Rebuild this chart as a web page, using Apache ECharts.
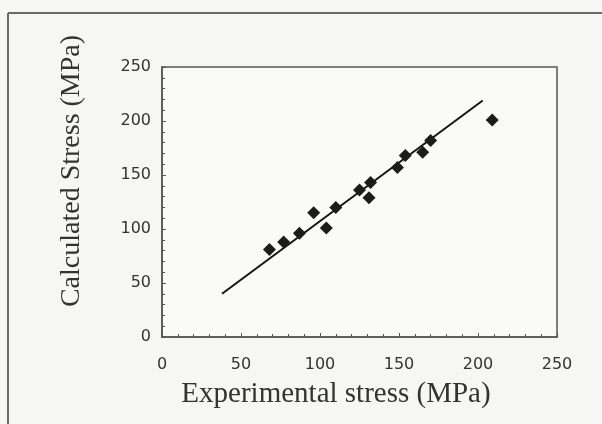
<!DOCTYPE html>
<html>
<head>
<meta charset="utf-8">
<script src="https://cdn.jsdelivr.net/npm/echarts@6/dist/echarts.min.js"></script>
<style>html,body{margin:0;padding:0;background:#f6f6f4;}#c{width:602px;height:424px;}</style>
</head>
<body>
<div id="c"></div>
<script>
// Experimental stress (MPa) vs calculated stress (MPa)
var expStress  = [68, 77, 87, 96, 104, 110, 125, 131, 132, 149, 154, 165, 170, 209];
var calcStress = [81, 88, 96, 115, 101, 120, 136, 129, 143, 157, 168, 171, 182, 201];
// fitted line endpoints
var fitX = [38, 203];
var fitY = [40, 219];
var xTicks = [0, 50, 100, 150, 200, 250];
var yTicks = [0, 50, 100, 150, 200, 250];

var chart = echarts.init(document.getElementById('c'), null, {renderer: 'canvas'});
var axisColor = '#555555';
var labelStyle = {color: '#333333', fontFamily: 'DejaVu Sans', fontSize: 16};
chart.setOption({
  backgroundColor: '#f6f6f4',
  animation: false,
  grid: {left: 162, right: 45, top: 67, bottom: 87, show: true,
         backgroundColor: '#fafaf9', borderColor: axisColor, borderWidth: 1.5},
  xAxis: {
    type: 'value', min: xTicks[0], max: xTicks[xTicks.length - 1], interval: 50,
    axisLine: {show: true, lineStyle: {color: axisColor, width: 1.5}},
    axisTick: {show: true, inside: true, length: 4, lineStyle: {color: axisColor}},
    minorTick: {show: true, splitNumber: 5, length: 3, lineStyle: {color: axisColor}},
    splitLine: {show: false},
    axisLabel: Object.assign({margin: 20}, labelStyle)
  },
  yAxis: {
    type: 'value', min: yTicks[0], max: yTicks[yTicks.length - 1], interval: 50,
    axisLine: {show: true, lineStyle: {color: axisColor, width: 1.5}},
    axisTick: {show: true, inside: true, length: 4, lineStyle: {color: axisColor}},
    minorTick: {show: true, splitNumber: 5, length: 3, lineStyle: {color: axisColor}},
    splitLine: {show: false},
    axisLabel: Object.assign({margin: 11}, labelStyle)
  },
  series: [
    {
      type: 'line', data: fitX.map(function (x, i) { return [x, fitY[i]]; }),
      showSymbol: false, symbol: 'none',
      lineStyle: {color: '#151515', width: 2}, z: 2
    },
    {
      type: 'scatter', data: expStress.map(function (x, i) { return [x, calcStress[i]]; }),
      symbol: 'diamond', symbolSize: 13,
      itemStyle: {color: '#1c1c1c', opacity: 1}, z: 3
    }
  ],
  graphic: [
    {type: 'line', shape: {x1: 8, y1: 13, x2: 602, y2: 13}, style: {stroke: '#6a6a6a', lineWidth: 2}},
    {type: 'line', shape: {x1: 8, y1: 13, x2: 8, y2: 424}, style: {stroke: '#6a6a6a', lineWidth: 2}},
    {type: 'text', x: 72, y: 171, rotation: Math.PI / 2,
     style: {text: 'Calculated Stress (MPa)', align: 'center', verticalAlign: 'middle',
             font: '28px "Liberation Serif"', fill: '#333333'}},
    {type: 'text', x: 336, y: 394,
     style: {text: 'Experimental stress (MPa)', align: 'center', verticalAlign: 'middle',
             font: '29px "Liberation Serif"', fill: '#333333'}}
  ]
});
</script>
</body>
</html>
